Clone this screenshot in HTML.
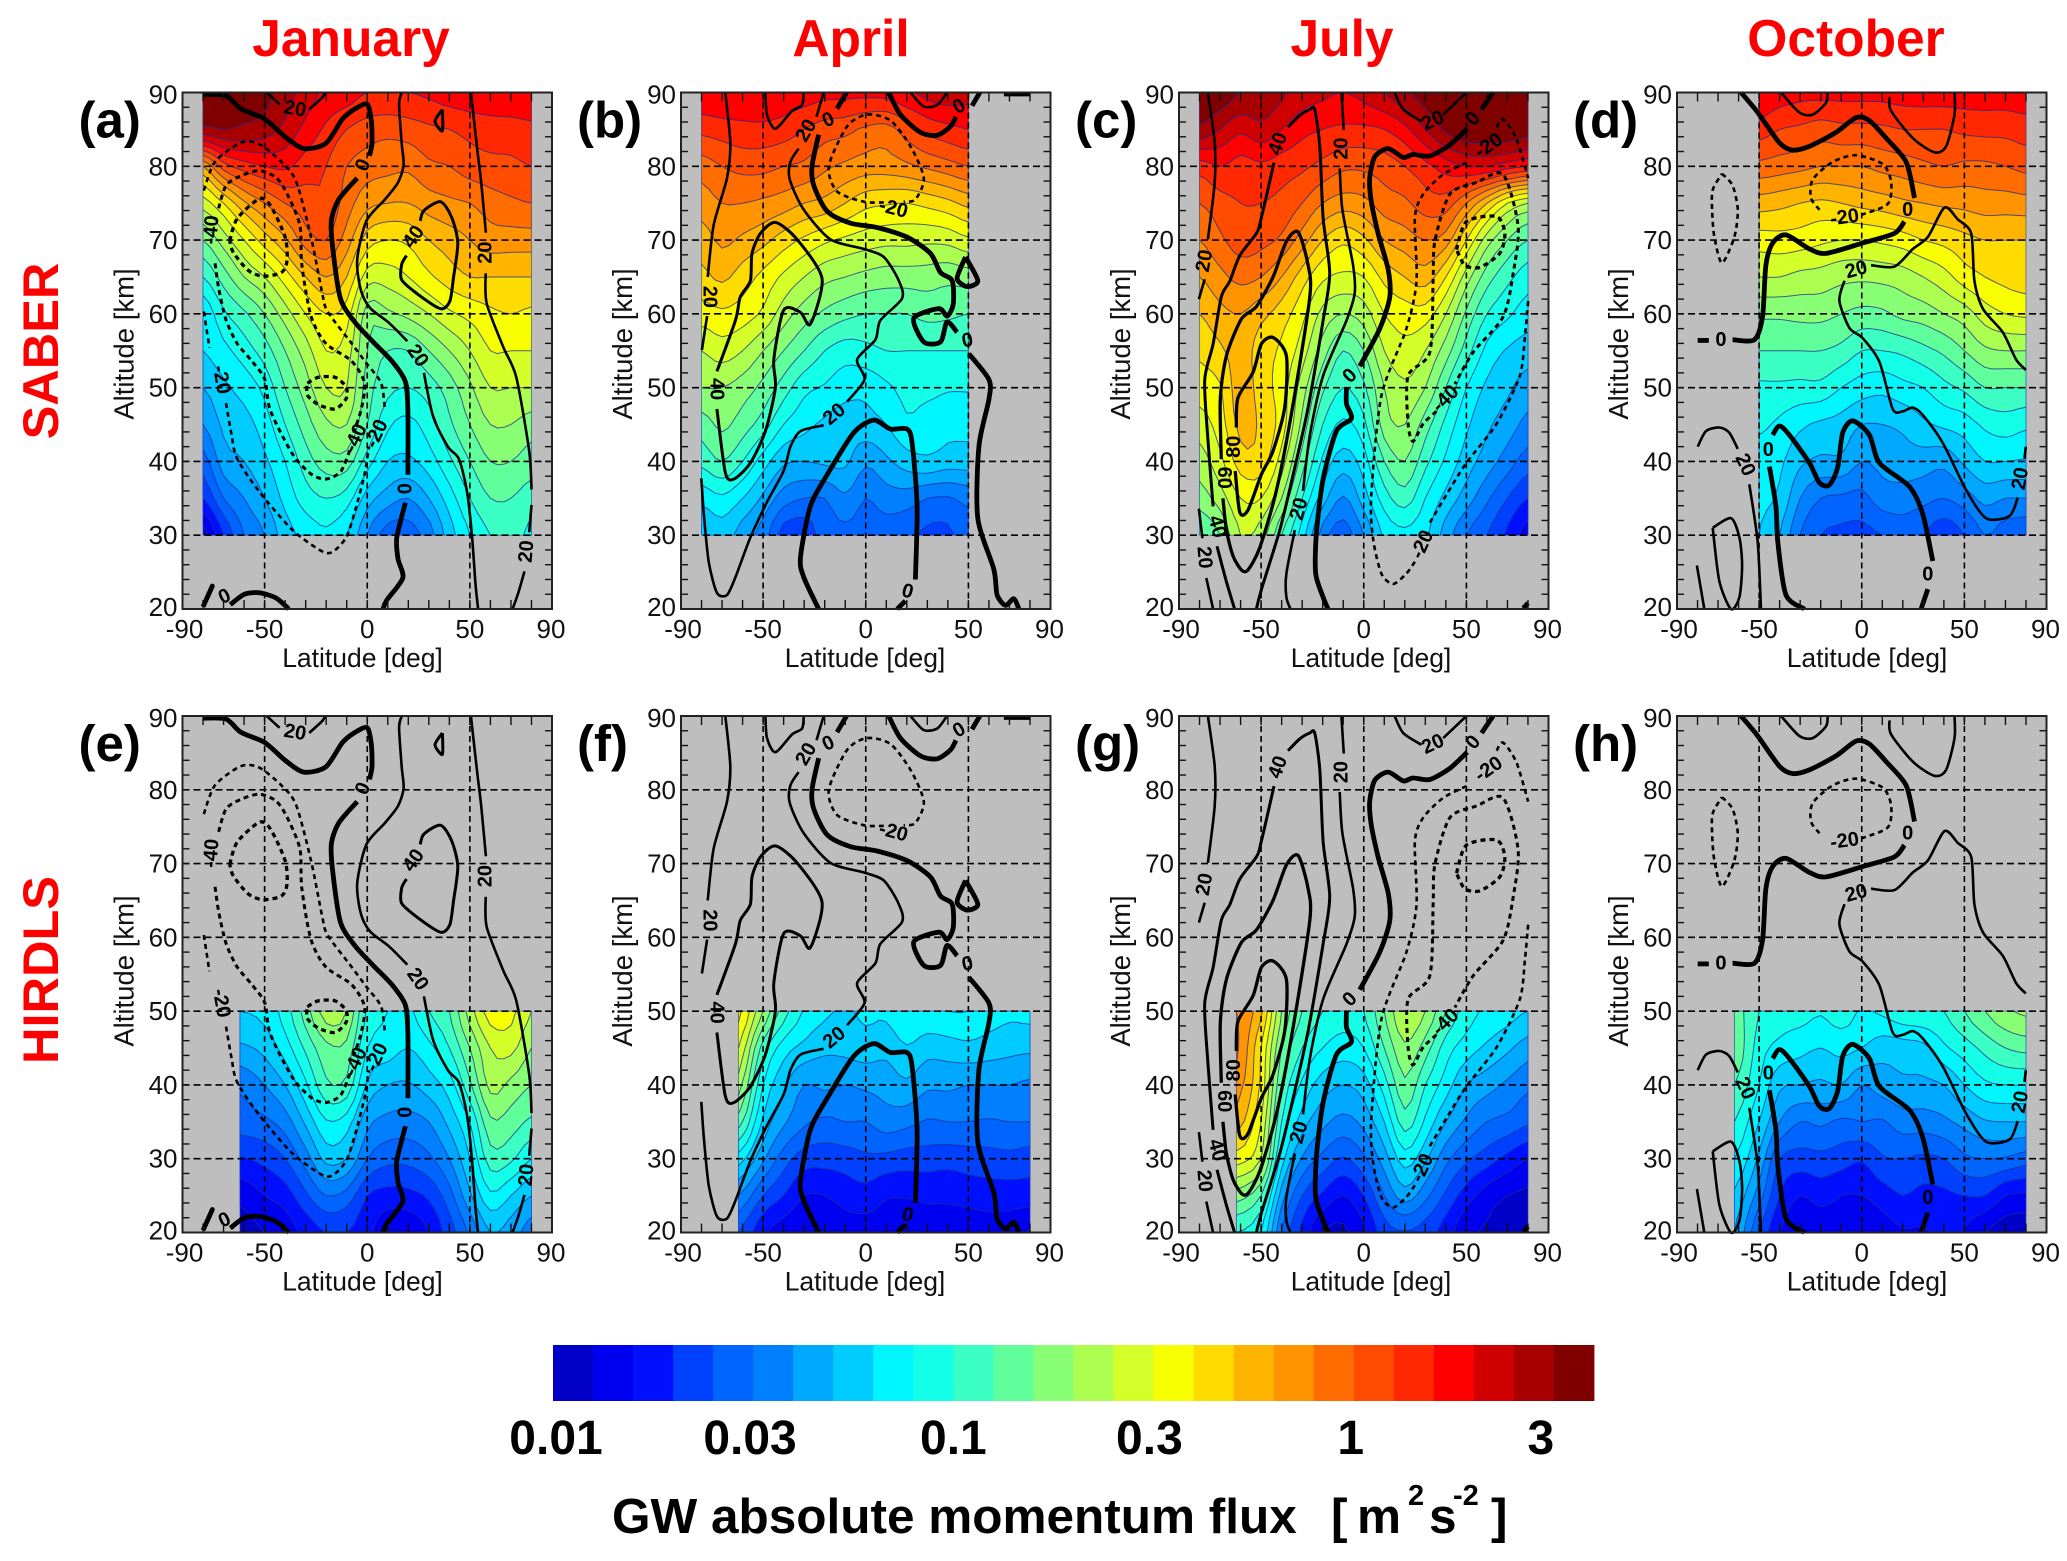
<!DOCTYPE html>
<html lang="en"><head><meta charset="utf-8"><title>GW absolute momentum flux</title>
<style>
html,body{margin:0;padding:0;background:#fff}
svg{display:block}
text{font-family:"Liberation Sans",sans-serif}
.month{font-size:51.5px;font-weight:700;fill:#f00;text-anchor:middle}
.row{font-size:50.5px;font-weight:700;fill:#f00;text-anchor:middle}
.cbt{font-size:49.5px;font-weight:700;fill:#000}
</style></head><body>
<svg id="fig" xmlns="http://www.w3.org/2000/svg" width="2067" height="1561" viewBox="0 0 2067 1561">
<rect width="2067" height="1561" fill="#fff"/>
<text class="month" x="351" y="56">January</text>
<text class="month" x="851" y="56">April</text>
<text class="month" x="1342" y="56">July</text>
<text class="month" x="1846" y="56">October</text>
<text class="row" transform="translate(58 351) rotate(-90)">SABER</text>
<text class="row" transform="translate(58 970) rotate(-90)">HIRDLS</text>
<g id="panels"></g>
<g id="colorbar"></g>
<g>
<text class="cbt" x="612" y="1533">GW absolute momentum flux</text>
<text class="cbt" x="1331" y="1533">[</text>
<text class="cbt" x="1357" y="1533">m</text>
<text class="cbt" x="1408" y="1505" style="font-size:29px">2</text>
<text class="cbt" x="1429" y="1533">s</text>
<text class="cbt" x="1453" y="1505" style="font-size:29px">-2</text>
<text class="cbt" x="1491" y="1533">]</text>
</g>
</svg>
<script>
// Flux values are read as colour-level units: level = 10*log10(flux / 0.01 m2 s-2).
const saberAlt=[30,35,40,45,50,55,60,65,70,75,80,85,90];
const hirdlsAlt=[20,25,30,35,40,45,50];
const latFull=[-80,-70,-60,-50,-40,-30,-20,-10,0,10,20,30,40,50,60,70,80];
const latApr=[-80,-70,-60,-50,-40,-30,-20,-10,0,10,20,30,40,50];
const latOct=[-50,-40,-30,-20,-10,0,10,20,30,40,50,60,70,80];
const latHirdls=[-62,-50,-40,-30,-20,-10,0,10,20,30,40,50,60,70,80];

const saberJan=[
[0.5,3,5,6,7.5,8.3,8.8,8,6,4.5,4.5,5.5,7.5,9,10,10.5,9.7],
[3,5,6,7,8.3,9.5,10,9.5,7.5,6.5,6,7,8.5,10,11,11,10.5],
[4.5,6.5,7,7.8,9,10.5,11.5,11.5,9.5,8,7.8,8.5,9.8,11,12,12,11.5],
[6,7.2,7.6,8.5,10,11.5,12.8,13,11,9.2,8.7,9.5,10.8,12,13,13,12.5],
[7,7.8,8.4,9.3,11,12.5,14,14,11.5,10.3,10,10.5,11.5,12.8,14,14,14],
[8,8.7,9.5,10.5,12,13.5,15,14.5,12,11,11,12,13,14,15,15,15],
[8.2,9.8,10.8,12,13.5,15,16,15.5,12.5,12.8,13.3,14,14.8,15.3,15.8,16,15.8],
[10,11.5,13,14,15.5,17,18,17,14.5,14.5,15,15.8,16.5,17,17,17,17],
[12,13.5,15,16.5,17.8,19.5,20,18.5,16.5,16,16.2,17,17.5,18,18.5,18.5,18.5],
[14.5,16,17.8,19,20,20.5,20.8,19.5,18.3,18,18,18.5,18.8,19,19.5,19.8,20],
[18,20.5,21.5,22,22.2,21.5,21,20,19.5,19.3,19.2,19.8,20,20.5,20.7,20.8,21],
[24.8,25,24.8,24.5,23.7,22.7,21.8,21,20.5,20.3,20.5,20.8,21,21.3,21.5,21.5,21.7],
[25.5,25.5,25.5,25.3,24.5,23.5,22.8,22.5,22,22,22,22.2,22.5,22.7,22.8,23,23]];
const saberApr=[
[7,7.5,6.5,5.5,3.5,3.3,4.5,4.7,4.5,4.5,4.2,3.8,3.8,4.5],
[8.3,8.8,8,6.8,5.5,5,5,5.8,5,5.5,5.5,5,4.9,5.3],
[10.3,11,10,8.5,7.2,7,7.2,7.2,6.2,6.8,7.5,7.8,7.5,7.5],
[11.5,12.2,11.5,10.5,9,8.3,7.8,7.5,7.6,8,8.8,8.5,8.3,8.3],
[13,13,12.5,11.7,10.5,9.3,8.9,8.4,8.3,8.8,9.3,9.3,9.1,9.1],
[14,14.5,14,13,12,11,10,9.5,9.7,10,10,10,10,10],
[15.5,15.8,15.5,14.8,13.5,12.5,11.8,11.3,11,11,11,11.3,11.2,11],
[16.7,17.2,16.5,15.7,14.8,14,13.3,13,12.7,12.5,12.5,12.5,12.3,12.5],
[17.5,18.2,17.8,17.3,16.5,15.8,15.2,14.8,14.5,14.3,14.3,14.2,14.3,14.8],
[18.5,19,19,18.8,18.5,18,17.7,17,16.3,16.1,16,16.3,16.7,17.3],
[19.5,20,20.3,20.3,20,19.8,19.2,18.8,18.5,18.5,18.8,19.2,19.6,20],
[21.3,21.5,21.7,21.7,21.5,21,20.5,20.3,19.8,19.6,20.5,21.3,21.7,22],
[22.8,23,22.8,23,22.7,22.5,22.3,22.3,22.3,22.4,22.8,23.3,23.5,23.3]];
const saberJul=[
[11,12,14,13.5,11,8.5,5.5,4.5,6,8.2,8.7,8.2,6.5,5,4,2.8,1.5],
[12.5,13.5,15,15,13,10,7.5,5.9,7.5,9.5,10.5,9,7.7,6.5,5.2,4,3],
[13.5,14.7,16.5,16.5,14.5,11.5,8.8,7.5,8.5,11,12,10.3,8.8,7.5,6.5,5.5,4.5],
[14.5,15.5,17.3,16.8,15.5,12.7,10,8.8,9.7,12.5,13,11.5,9.7,8.2,7.2,6.5,5.7],
[15.5,15.9,17.6,16.5,15.5,13.5,11.2,10,10.8,13,13.8,13,11,9,7.8,7.2,6.5],
[16.2,16.8,17.5,16.5,15.8,14.5,12.5,11,12,14,14.7,14,12.5,10.5,8.7,7.9,7.5],
[17,17.7,18,17.3,16.5,15.3,13.7,13,13.5,15,15.5,15.5,14,11.8,10,9.2,8.5],
[18,18.7,19.3,19,18,16.5,15.2,14.8,15,16.3,17,17.5,16,13.5,11.5,10.3,9.5],
[19,19.8,20.5,20.3,19.8,18.5,17,16.2,16.8,18,18.5,19,18.5,16,13.5,12,11],
[20,20.6,21,21,20.7,20,19,18.5,18.7,19.5,19.8,20.5,20.5,19,17,15,14],
[21.5,22,21.6,21.8,21.5,21.2,20.7,20.2,20.2,20.5,21,21.7,22.5,23,23,22.5,22],
[24.8,24,23.2,23.7,23,22.3,22,21.8,21.8,22,22.7,24,25.2,25.7,25.7,25.7,25.5],
[25.8,25.7,25,24.8,24.2,23.5,23.2,23,23.3,24,24.8,25.5,25.9,25.9,25.9,25.9,25.9]];
const saberOct=[
[8,7,5,4,3.8,3.7,4,4.5,4,3.3,4,5,4.5,4.2],
[8.2,7.8,6,5,4.8,4.7,5.5,5.5,5.3,5,5.5,6.3,6,6],
[8.5,8.2,7.2,6.8,6.8,6,6.3,6.6,6.5,6.3,7.2,8,8,7.9],
[9.2,8.8,8.2,7.8,7.6,7,7,7.2,7.8,8.2,8.5,9.2,9.5,9.2],
[9.8,9.8,9.7,9.7,9,8.5,8.3,8.7,9,9.7,10.2,11,11,11],
[11,11,11,11,10.7,10,10,10.2,10.7,11.2,12,12.8,13,13],
[12.2,12.2,12.3,12.3,12,11.7,11.8,12.3,12.5,13,13.5,14.5,15,15.2],
[14,14,13.7,13.6,13.3,13.2,13.3,13.5,14,14.6,15.5,16,16.3,16.5],
[15.5,15.6,15.5,15.2,15,15,15.2,15.5,16,16.3,16.7,17,17,17],
[17.5,17.3,17,16.8,17,17.3,17.5,17.8,18,18.2,18.3,18.5,18.5,18.6],
[19.7,19.5,19.3,19,19,19,19.3,19.5,19.8,20,19.8,19.8,20,20.3],
[21.5,21,20.8,20.5,20.7,20.7,20.8,21,21,21,21.2,21.3,21.3,21.5],
[23,22.5,22.3,22.3,22.3,22.3,22.3,22.4,22.5,22.5,22.5,22.5,22.5,22.6]];
const hirdlsJan=[
[0.5,1,1.4,2.3,3,3,2.3,1.2,1.2,2,3.5,5.2,7,6.5,5.5],
[1.3,2,2.5,3.8,5,4.6,3,2.6,2.7,3.2,4.6,6.8,8.8,8,7],
[2.9,3.3,4,5.5,7.3,7,5,4.3,4.3,4.8,6,8,10.5,10.2,9],
[4.5,4.8,5.5,7.2,8.9,8.5,6.3,5.7,5.6,6,7.3,9,11.8,11.5,10.8],
[5.2,6,7,8.8,10.8,10.7,7.8,7,6.9,7.5,8.5,10.8,13.3,12.7,12],
[6.8,7.3,8.5,10.2,11.7,11.7,9,8.5,8,8.7,10,12,14,14.3,13],
[8,8.3,9.5,11.5,13.5,13,9.8,9,8.8,10,11,13.5,15.5,15.3,14]];
const hirdlsApr=[
[4,2.2,1.5,1.2,1.2,1.5,1.5,1.5,1,1.5,1.5,1.3,1.5,1.4,0.9],
[6,4,3,2,2,2.4,2.6,2.1,2.1,2.2,2.2,2.4,2.5,2.5,2.5],
[8.5,6.2,4.5,3.5,3.4,3.5,3.8,3.7,3.5,3.5,3.4,3.5,3.6,3.7,3.5],
[11.5,7.8,6.2,5.2,4.8,5,5,5.5,5.3,4.9,5,5,4.9,5,5],
[13.5,9,7.2,6,6.2,6,6.2,6.4,6.8,6.2,6.2,6,6,6,5.8],
[15,10.5,8.5,7.7,7.2,7.3,7.5,7.3,7.9,7.4,7.5,7.7,7.5,7.3,7.2],
[16.3,13,10.5,8.9,8.2,7.9,8.2,8.2,9,8.8,9,9,8.5,8.2,8.3]];
const hirdlsJul=[
[10,9,5,2.7,1,0.8,1.8,3.5,3.9,3.5,2.5,1.2,0.9,0.6,0.5],
[12.5,11,6.5,4,2.8,2,3,5,6.5,5.3,3.8,2.5,1.5,1,0.8],
[15.5,14,8.5,5.9,4.7,3.9,4.8,6.5,8.5,7.2,5.3,4.2,3.5,2.7,2],
[17.5,15,10,7.5,6.3,5.7,6.3,8,10.5,8.8,7,5.8,5,4.7,4.2],
[18.5,15.8,11,8.8,7.5,7,7.5,9.5,11.8,10,8.5,7,6.4,5.8,5.2],
[19.2,16,12,10,9,8.5,9,11,12.8,11.5,9.5,8.5,7.8,7.2,6.5],
[19,17.2,13,11,10,9.5,10,12,14,13,11,9.5,8.8,8.4,8]];
const hirdlsOct=[
[7,4,2,1.2,1.2,1.6,1,1.5,1.9,1.9,2.2,1.9,1,0.5,0.4],
[7.8,5.5,3,2,2.4,2,2,2.5,3,2.7,2.8,3,3,2,1.8],
[9,6.8,4,3.6,3.7,3.5,3.1,3.9,4,3.8,4,4.8,5,4.9,4.5],
[10,8,6,5,5.2,4.8,5,4.9,5.5,5.5,5.8,6.3,6.9,7,7],
[11,9,7.2,7,6.8,7,6,6.5,6.8,6.8,7,8,8.8,9,9],
[11.8,9.5,8.7,8.3,8,8.3,8,7.4,7.5,7.7,8.8,9.5,10.3,11,11.3],
[11.5,10,9.5,9.4,9.1,9.5,8.9,9.2,9.7,9.9,10,11,12,12.8,13.2]];

// Wind contours: [wind value, lat, alt, lat, alt, ...]
const janContours=[
[0,-80,89.7,-68.8,89.6,-61.6,87.8,-49.9,86.4,-40,84,-31,82.4,-20.2,83.1,-12.1,86.4,-5.8,87.8,0,88.4,2,86.1,2.3,83.1,1.1,81.4],
[0,-4.9,78.4,-13.9,75.5,-17.5,72.6,-16.6,68.4,-13,62,-5.8,58.8,3.2,56.1,12.3,53.5,18.6,50.8,19.8,46.7,19.8,38.2],
[0,18.6,34.4,14.4,29.7,15,26.8,17.3,24.2,9.5,21.2,7.7,20],
[0,-80,20.3,-75.5,23.1,-78,21.5],
[0,-66.7,20.6,-59.8,22,-52.6,22.2,-44.5,21.5,-38.2,20],
[20,16.8,90,15.5,88.4,16.8,83.1,17.7,80.2,15,77.8,8.6,75.5,-0.4,72.6,-4.9,67.3,-3.1,63.2,1.4,60.8,10.5,58.8,19.5,56.3],
[20,27.6,52,32.1,46.1,39.3,42,44.7,40.3,48.6,35.9,51,30,52.8,23.2,54,20],
[20,50.5,90,53.7,82,55.5,77.8,57.8,71],
[20,57.7,65.5,58.2,61.4,66.3,55.5,72.6,51.4,78.9,41.4,80,36.2],
[20,80,34.1,78.9,30.4],
[20,76.6,25.1,73.5,22.1,70.8,20],
[20,-49,90,-42.7,88.4],
[20,-28.3,87.7,-22,89.3,-20.5,90],
[40,25.8,72.6,27.6,74,35.7,75.2,41.1,73.1,44.1,69.6,42,64.9,40.2,61.7,35.7,60.7,24.9,62.6,16.8,64.6,16.8,66.7,19.1,67.9],
[40,36.6,87.7,33,86.1,36.6,84.8,36.6,87.7],
[-20,-79.6,76.7,-74.2,80.6,-61.6,83.2,-52.6,83,-41.8,80.6,-34.6,77.9,-27.4,70.4,-22,62.9,-19.3,60.3,-7.6,56,-0.4,53.3,6.8,50.6,8.6,46.9],
[-20,-79.6,60.3,-76.9,55.4],
[-20,-68.8,47.9,-66.1,43.6,-63.4,40.4,-52.6,35.9,-36.4,30.7,-22,27.8,-16.6,27.8,-10.3,29.7,-5.8,33.4,-1.3,38.3,0.9,42],
[-40,-72.4,74.3,-68.8,77.4,-61.6,78.7,-52.6,79.4,-44.5,78.5,-39.1,76.3,-32.8,72,-31.9,66.7,-27.4,59.7,-20.2,56,-7.6,53.6,-1.3,50.6,-3.1,46.9,-6.7,43.9],
[-40,-8.5,41.5,-13,38.6,-20.2,37.6,-27.4,38.3,-36.4,41,-47.2,46.9,-49.9,51.1,-56.2,53.6,-63.4,56,-68.8,59.2,-72.4,63.5,-74.2,67],
[-60,-67,69.9,-63.4,72.9,-52.6,75.6,-47.2,74.7,-40,70.4,-39.1,67.2,-41.8,65.6,-50.8,65.1,-58,65.9,-65.2,68.3,-67,69.9],
[-60,-29.2,50.6,-23.8,51.4,-15.7,51.4,-10.3,50.1,-10.3,48.5,-15.7,47.1,-23.8,47.7,-29.2,49,-29.2,50.6]];
const aprContours=[
[0,11.2,90,16.9,87,26.6,84.6,34.8,84.2,41.3,85.4,43.9,86.7],
[0,51.8,88.2,55.6,90],
[0,-9.4,90,-14,87.8],
[0,-22.9,84.3,-26.2,80,-25.3,77.4,-18.8,73.9,-7.5,72.3,5.5,71.7,20.1,70.4,31.5,68.2,36.4,65.6,42.1,64.5,42.6,61.3,39.6,59.7,35.6,60.7,23.4,59.4,28.3,56.2,36.4,56.2,39.6,58.9,44.5,57.5],
[0,48.6,67.7,44.5,64.8,49.4,63.7,54.6,64.5,48.6,67.7],
[0,50.2,54.6,60,51.1,60,48.4,55.1,42,54.6,32.3,62.4,25.4,64,21.9,68.1,20.5,72.1,21.4,74.6,20],
[0,-22.9,20,-30.2,24.3,-31.8,27,-27,33.9,-18.8,38.2,-5.8,43.9,3.9,45.6,12,44.4,20.1,44.4,22.6,42.5,25,33.9,24.2,24],
[0,15.3,20,19.3,21.1],
[0,67.3,89.8,80.3,89.8],
[20,-68.4,90,-66,83.2,-67.6,78.4,-74.1,72,-77,65],
[20,-77.3,59.7,-79.8,55.1],
[20,-48.9,90,-48.1,87,-44,85.1,-35.9,87.5,-31,88.3,-30.2,90],
[20,-20.5,90,-24,86.7],
[20,-32.7,82.4,-36.7,80.6,-37,78.2,-30.2,74.1,-17.2,70.1,-1,68.8,8.8,67.7,16.1,64.5,17.7,62.1,7.1,59.1,4.7,56.5,-4.2,53.8,-0.6,51.1,-9.1,48.1],
[20,-20.5,44.9,-31.8,44.1,-36.7,42,-40,38.7,-48.1,34.5,-56.2,29.7,-63.5,24.3,-67.6,21.9,-72.5,22.2,-76.5,26.4,-78.9,32.9,-80.1,37.7],
[20,21.8,90,28.2,88.1,34.8,88.3,39.6,90],
[40,-72.5,52.2,-63.5,59.1,-61.1,62.3,-56.2,64.5,-55.4,68.2,-51.3,70.9,-44,72.4,-33.5,70.1,-21.3,64.8,-27,58.6,-31.8,60.2,-40,60.5,-44.8,53.8,-44,50,-48.9,44.1,-56.2,39.8,-64.3,37.6,-68.4,38.5,-72.5,47.1],
[-20,8.8,75.1,-1,75.2,-14,76.6,-18,80,-9.1,85.4,0.6,87,12,86.2,21.8,82.7,28.3,78.4,24.2,75.5,18.5,75.2]];
const julContours=[
[0,63,90,57.4,87.7],
[0,50.4,85.1,41.9,82.9,32.2,81.4,24,81.6,19.2,81.2,11.9,82.4,5.4,81.3,2.9,78.4,3.7,75.2,7,70.9,11.9,66,12.7,62.3,7.8,58,-1.9,52.9],
[0,-8.4,50,-8.4,47.8,-6,45.8,-13.3,44.1,-19.8,37.6,-23.1,30.1,-23.4,24.8,-19.8,21.6,-17.4,20],
[0,77.7,20.1,80,20.8],
[20,-75.9,90,-72.6,83.2,-72.6,77.8,-75.9,70.1],
[20,-77.5,64.7,-80.3,62],
[20,-10.9,90,-9.7,84.9],
[20,-11.7,79.7,-10.4,74.1,-5.2,66.6,-4.4,62.8,-8.4,59.1,-19.8,51.6,-26.3,43.5,-29.6,36],
[20,-33.6,30.7,-37.7,24.8,-37.7,21.6,-35.7,20],
[20,15.1,90,19.2,87.7,28.1,86.1],
[20,38.7,87,50,90],
[20,-80.3,33.6,-78.6,29.6],
[20,-76.7,24.2,-73.4,20],
[40,-36.9,85.3,-31.2,86.9,-26.3,87.7,-23.9,87.7,-21.4,82.7,-19.8,73,-16.6,65.5,-19.8,59.1,-27.1,47.3,-34.4,38.2,-40.9,30.7,-49.9,22.6,-52.3,20],
[40,-43.7,80.5,-49.9,73,-52.3,70.9,-60.4,67.9,-65.3,64.4,-69.4,62.3,-73.4,55.9,-77.5,51,-75.9,43,-73.4,33.9],
[40,-71.5,28.5,-66.9,23.7,-62.9,20],
[60,-69.4,40.3,-69.9,48.4,-66.9,54.3,-59.6,59.3,-52.3,61,-44.2,65,-37.7,69.8,-32,71.1,-27.1,66.6,-26.3,62.3,-34.4,47.8,-42.6,36,-50.7,28.3,-56.4,25.3,-59.6,25.3,-63.7,27.2,-66.9,30.7,-68.6,35],
[80,-62.1,44.6,-61.3,48.6,-53.9,52.1,-49.9,55.9,-44.2,56.8,-37.7,54.3,-38.5,47.3,-44.2,41.4,-49.9,38.2,-56.4,33.4,-60.4,33.1,-62.6,38.7],
[-20,32.2,31.7,40.3,35.5,50,39.8,64.7,45.1,76,51.6,78.5,56.9,80.1,61.8],
[-20,24.9,26.4,20.8,24.8,14.3,23.4,8.6,24.8,4.5,29.6,3.7,35.5,8.6,48.9,20.8,58,25.7,64.4,24.9,73,28.9,76.2,38.7,78.9,50,80.5],
[-20,64.7,85.3,67.9,86.4,74.4,83.7,80.1,78.4],
[-40,35.4,46.8,28.9,45.1,24,42.7,21.6,45.1,21.6,51.6,32.2,54.8,33.8,64.4,34.6,69.8,41.9,76.2,54.9,77.8,67.9,78.9,75.2,71.9,72.8,65.5,67.9,59.6,53.3,54.8,44.4,50.5],
[-60,45.2,68.7,50,72.5,64.7,73.2,68.7,70.9,66.3,68.2,56.5,66.3,49.2,66.6,45.2,68.7]];
const octContours=[
[0,-58.8,90,-50.7,87.3,-40.1,83.2,-33.6,82.2,-25.5,82.7,-12.5,84.6,-2.8,86.6,3.7,86.2,11.9,83.8,21.6,80.6,25.7,75.7],
[0,20.8,72.5,15.9,70.9,0.5,69.6,-17.4,68.2,-25.5,68.8,-36.9,70.7,-43.4,69.6,-46.7,66.6,-48.3,59.7,-52.3,56.5,-62.9,56.5],
[0,-74.5,56.4,-79.9,56.4],
[0,-43.4,43.6,-40.1,44.8,-35.3,43.6,-25.5,39.8,-20.6,37.1,-15.8,36.8,-11.7,39.2,-9.3,43.9,-4.4,45.5,3.7,43.6,8.6,39.8,23.2,36.6,29.7,32.9,34.6,26.5],
[0,32.2,22.7,28.9,20],
[0,-45,39.3,-41.8,33.9,-40.9,29.1,-36.9,21.9,-27.9,20],
[20,13.5,89.4,14.3,87.5,24.9,83.8,35.4,81.9,41.1,82.7,45.2,87,45.2,90],
[20,-39.3,90,-30.4,87.3,-23.9,87,-17.4,88.6,-16.6,90],
[20,4.5,66.6,15.9,66.4,24.9,68.8,32.2,70.4,40.3,74.4,46.8,72.8,53.3,70.9,54.9,64.5,59,60.7,68.7,57.5,75.2,53.8,79.9,52.4],
[20,-8.4,64.5,-10.9,61.8,-6,58.1,0.5,56.7,8.6,53.5,15.1,47.1,20,46.8,24.9,47.3,29.7,46.3,39.5,42.5,50.9,36.1,60.6,32.3,72,32.6,76,35.1],
[20,79.3,40.4,79.9,42],
[20,-79.9,42,-75.9,44.1,-69.4,44.6,-64.5,43.9,-60.4,41.7],
[20,-54.8,36.9,-50.7,29.1,-49.1,20],
[20,-72.6,31,-63.7,32.3,-59.6,29.7,-58.3,25.9,-59.6,21.6,-63.7,20,-69.4,23.8,-72.6,31],
[20,-80.3,25.9,-76.7,20],
[-20,-0.3,73.4,12.7,74.9,14.3,77.9,10.2,80.3,-2.8,81.5,-14.1,80.6,-23.9,78.2,-24.7,75.7,-20.6,74.1],
[-20,-68.1,79,-62.9,77.4,-60.4,74.1,-62.1,70.4,-68.1,66.9,-71.8,70.4,-72.9,74.1,-72.6,76.8,-68.1,79]];

// Contour labels: [text, lat, alt, rotation degrees]
const janLabels=[["20",-35.1,87.9,10],["0",-2.5,80.2,-65],["40",22.2,70.5,-55],["20",57,68.3,-90],["20",24.9,54.4,55],["0",18.2,36.3,-90],["20",77.1,27.8,-85],["0",-69.7,21.8,-25],["-40",-76.4,71.4,-85],["-20",-70.6,51.1,80],["-40",-6.1,43.2,-65],["-20",4.1,43.8,-65]];
const aprLabels=[["0",-18.4,86.4,-25],["20",-29.4,84.9,-60],["-20",13.6,74.4,15],["0",45.3,88.2,-30],["20",-75.7,62.3,90],["40",-72.1,49.8,90],["0",49.4,56.5,-10],["20",-15.6,46.5,-40],["0",20.5,22.5,15]];
const julLabels=[["20",-78,67.2,-80],["40",-42.2,83.1,-70],["20",-11.4,82.4,-90],["20",33.5,86.3,-25],["0",53,86.5,-50],["-20",60.6,82.9,-35],["-40",39.5,48.6,-45],["0",-7.1,51.7,-45],["80",-63.7,42,-90],["60",-67.7,37.8,90],["40",-71,31.2,75],["20",-77.2,27,85],["20",-32,33.6,-75],["-20",28.1,28.8,-65]];
const octLabels=[["0",22.4,74.2,0],["-20",-8.4,73.2,-8],["20",-2.8,66.1,-15],["0",-68.6,56.6,0],["20",-56.4,39.6,65],["0",-45.5,41.7,0],["20",76.8,37.7,-80],["0",32.2,24.8,0]];

const latTicks=[-90,-50,0,50,90];
const altTicks=[20,30,40,50,60,70,80,90];
const barTickValues=[0.01,0.03,0.1,0.3,1,3];
const barTickText=["0.01","0.03","0.1","0.3","1","3"];
const levelsPerDecade=10;
const barLevelCount=26;
const palette=["#0000c8","#0000f0","#0010ff","#0040ff","#0064ff","#0080ff","#00a8ff","#00ccff","#00f6ff","#14ffe8","#3cffc4","#60ff9c","#88ff74","#acff50","#d4ff28","#f8ff00","#ffdc00","#ffb400","#ff9400","#ff6c00","#ff4c00","#ff2800","#ff0000","#d00000","#a80000","#800000"];

const panelDefs=[
{id:"a",col:0,row:0,lat:latFull,alt:saberAlt,z:saberJan,lines:janContours,labels:janLabels},
{id:"b",col:1,row:0,lat:latApr,alt:saberAlt,z:saberApr,lines:aprContours,labels:aprLabels},
{id:"c",col:2,row:0,lat:latFull,alt:saberAlt,z:saberJul,lines:julContours,labels:julLabels},
{id:"d",col:3,row:0,lat:latOct,alt:saberAlt,z:saberOct,lines:octContours,labels:octLabels},
{id:"e",col:0,row:1,lat:latHirdls,alt:hirdlsAlt,z:hirdlsJan,lines:janContours,labels:janLabels},
{id:"f",col:1,row:1,lat:latHirdls,alt:hirdlsAlt,z:hirdlsApr,lines:aprContours,labels:aprLabels},
{id:"g",col:2,row:1,lat:latHirdls,alt:hirdlsAlt,z:hirdlsJul,lines:julContours,labels:julLabels},
{id:"h",col:3,row:1,lat:latHirdls,alt:hirdlsAlt,z:hirdlsOct,lines:octContours,labels:octLabels}];

const NS="http://www.w3.org/2000/svg";
const colLeft=[182.5,681,1179,1677], rowTop=[92.5,716], W=369.5, H=516.5;
const xTitleShift=[180,184,192,190], yTitleShift=[251.5,255];
function mk(tag,parent,attrs,txt){
  const e=document.createElementNS(NS,tag);
  for(const k in attrs) e.setAttribute(k,attrs[k]);
  if(txt!==undefined) e.textContent=txt;
  parent.appendChild(e);
  return e;
}
function smooth(p){
  let d="M"+p[0][0].toFixed(1)+" "+p[0][1].toFixed(1);
  for(let i=0;i<p.length-1;i++){
    const a=p[Math.max(i-1,0)],b=p[i],c=p[i+1],e=p[Math.min(i+2,p.length-1)];
    const k=1/6*0.8;
    d+="C"+(b[0]+(c[0]-a[0])*k).toFixed(1)+" "+(b[1]+(c[1]-a[1])*k).toFixed(1)+" "+(c[0]-(e[0]-b[0])*k).toFixed(1)+" "+(c[1]-(e[1]-b[1])*k).toFixed(1)+" "+c[0].toFixed(1)+" "+c[1].toFixed(1);
  }
  return d;
}
function cr(a,b,c,d,t){
  return 0.5*(2*b+(c-a)*t+(2*a-5*b+4*c-d)*t*t+(3*b-a-3*c+d)*t*t*t);
}
function upAxis(v,n){
  const out=[];
  for(let i=0;i<v.length-1;i++){
    for(let k=0;k<n;k++) out.push(v[i]+(v[i+1]-v[i])*k/n);
  }
  out.push(v[v.length-1]);
  return out;
}
function upLine(v,n){
  const out=[];
  for(let i=0;i<v.length-1;i++){
    const a=v[Math.max(i-1,0)],b=v[i],c=v[i+1],d=v[Math.min(i+2,v.length-1)];
    for(let k=0;k<n;k++) out.push(cr(a,b,c,d,k/n));
  }
  out.push(v[v.length-1]);
  return out;
}
function refine(P,n){
  const rows=P.z.map(r=>upLine(r,n));
  const cols=rows[0].map((_,c)=>upLine(rows.map(r=>r[c]),n));
  const z=cols[0].map((_,r)=>cols.map(col=>col[r]));
  return {lat:upAxis(P.lat,n),alt:upAxis(P.alt,n),z:z};
}
function bandPaths(P,x,y){
  const fills=[],lines=[];
  for(let L=0;L<barLevelCount;L++){fills.push("");lines.push("");}
  for(let L=1;L<barLevelCount;L++){
    for(let r=0;r<P.alt.length-1;r++){
      for(let c=0;c<P.lat.length-1;c++){
        const q=[[c,r],[c+1,r],[c+1,r+1],[c,r+1]];
        const poly=[],cross=[];
        for(let n=0;n<4;n++){
          const A=q[n],B=q[(n+1)%4];
          const va=P.z[A[1]][A[0]],vb=P.z[B[1]][B[0]];
          const xa=x(P.lat[A[0]]),ya=y(P.alt[A[1]]),xb=x(P.lat[B[0]]),yb=y(P.alt[B[1]]);
          if(va>=L) poly.push([xa,ya]);
          if((va>=L)!==(vb>=L)){
            const t=(L-va)/(vb-va);
            const pt=[xa+(xb-xa)*t,ya+(yb-ya)*t];
            poly.push(pt);cross.push(pt);
          }
        }
        if(poly.length>2) fills[L]+="M"+poly.map(p=>p[0].toFixed(1)+" "+p[1].toFixed(1)).join("L")+"Z";
        for(let n=0;n+1<cross.length;n+=2){
          lines[L]+="M"+cross[n][0].toFixed(1)+" "+cross[n][1].toFixed(1)+"L"+cross[n+1][0].toFixed(1)+" "+cross[n+1][1].toFixed(1);
        }
      }
    }
  }
  return {fills,lines};
}
const panelsRoot=document.getElementById("panels");
for(const P of panelDefs){
  const left=colLeft[P.col],top=rowTop[P.row];
  const x=v=>left+(v+90)/180*W;
  const y=v=>top+(90-v)/70*H;
  const g=mk("g",panelsRoot,{});
  
  
  const bg=mk("rect",g,{x:left,y:top,width:W,height:H,fill:"#bebebe"});
  
  
  const x0=x(P.lat[0]),x1=x(P.lat[P.lat.length-1]),y0=y(P.alt[P.alt.length-1]),y1=y(P.alt[0]);
  const base=mk("rect",g,{x:x0,y:y0,width:x1-x0,height:y1-y0,fill:palette[0]});
  
  
  const bp=bandPaths(refine(P,3),x,y);
  for(let L=1;L<barLevelCount;L++){
    if(!bp.fills[L]) continue;
    const f=mk("path",g,{d:bp.fills[L],fill:palette[L],stroke:palette[L],"stroke-width":"0.3"});
    
    
  }
  for(let L=1;L<barLevelCount;L++){
    if(!bp.lines[L]) continue;
    const l=mk("path",g,{d:bp.lines[L],fill:"none",stroke:"#1c2c90","stroke-width":"1","stroke-opacity":"0.75"});
    
    
  }
  const edge=mk("rect",g,{x:x0,y:y0,width:x1-x0,height:y1-y0,fill:"none",stroke:"#2838a0","stroke-width":"1","stroke-opacity":"0.6"});
  
  
  for(const a of altTicks.slice(1,-1)){
    const gl=mk("line",g,{x1:left,x2:left+W,y1:y(a),y2:y(a),stroke:"#000","stroke-width":"1.6","stroke-dasharray":"7 4"});
    
    
  }
  for(const a of latTicks.slice(1,-1)){
    const gl=mk("line",g,{x1:x(a),x2:x(a),y1:top,y2:top+H,stroke:"#000","stroke-width":"1.6","stroke-dasharray":"6 4"});
    
    
  }
  for(const c of P.lines){
    const val=c[0],pts=[];
    for(let i=1;i<c.length;i+=2) pts.push([x(c[i]),y(c[i+1])]);
    const m=Math.abs(val);
    const w=val===0?4.8:(m>=60?3.3:(m>=40?3:2.6));
    const a={d:smooth(pts),fill:"none",stroke:"#000","stroke-width":w,"stroke-linejoin":"round"};
    if(val<0) a["stroke-dasharray"]="5 4";
    const ln=mk("path",g,a);
    
    
  }
  for(const t of P.labels){
    const lb=mk("text",g,{transform:"translate("+x(t[1]).toFixed(1)+" "+y(t[2]).toFixed(1)+") rotate("+t[3]+")","font-size":"20","font-weight":"700","text-anchor":"middle",y:"7"},t[0]);
    
    
  }
  for(let a=-80;a<=80;a+=10){
    const t1=mk("line",g,{x1:x(a),x2:x(a),y1:top,y2:top+9,stroke:"#111","stroke-width":"1.4"});
    
    
    const t2=mk("line",g,{x1:x(a),x2:x(a),y1:top+H,y2:top+H-9,stroke:"#111","stroke-width":"1.4"});
    
    
  }
  for(let a=22;a<=88;a+=2){
    const t1=mk("line",g,{x1:left,x2:left+7,y1:y(a),y2:y(a),stroke:"#111","stroke-width":"1.4"});
    
    
    const t2=mk("line",g,{x1:left+W,x2:left+W-7,y1:y(a),y2:y(a),stroke:"#111","stroke-width":"1.4"});
    
    
  }
  const fr=mk("rect",g,{x:left,y:top,width:W,height:H,fill:"none",stroke:"#222","stroke-width":"2"});
  
  
  for(const a of latTicks){
    const tl=mk("text",g,{x:x(a)+(a===-90?2:a===90?-1:0),y:top+H+29,"font-size":"26","text-anchor":"middle",fill:"#111"},String(a));
    
    
  }
  for(const a of altTicks){
    const tl=mk("text",g,{x:left-5,y:y(a)+(a===90?11:a===20?7:9),"font-size":"26","text-anchor":"end",fill:"#111"},String(a));
    
    
  }
  const xt=mk("text",g,{x:left+xTitleShift[P.col],y:top+H+58,"font-size":"26.5","text-anchor":"middle",fill:"#111"},"Latitude [deg]");
  
  
  const yt=mk("text",g,{transform:"translate("+(left-49)+" "+(top+yTitleShift[P.row])+") rotate(-90)","font-size":"27.5","text-anchor":"middle",fill:"#111"},"Altitude [km]");
  
  
  const pl=mk("text",g,{x:left-104,y:top+45,"font-size":"51","font-weight":"700",fill:"#000"},"("+P.id+")");
  
  
}
const barRoot=document.getElementById("colorbar");
const barLeft=553,barRight=1594,barTop=1345,barH=56;
const barX=v=>barLeft+(levelsPerDecade*Math.log10(v/0.01))/barLevelCount*(barRight-barLeft);
const barLabelShift=[3,6,0,5,-3,-4];
for(let i=0;i<barLevelCount;i++){
  const v0=0.01*Math.pow(10,i/levelsPerDecade),v1=0.01*Math.pow(10,(i+1)/levelsPerDecade);
  const s=mk("rect",barRoot,{x:barX(v0),y:barTop,width:barX(v1)-barX(v0)+0.4,height:barH,fill:palette[i]});
  
  
}
barTickValues.forEach((v,i)=>{
  const t=mk("text",barRoot,{x:barX(v)+barLabelShift[i],y:1454,"font-size":"48","font-weight":"700","text-anchor":"middle",fill:"#000"},barTickText[i]);
  
  
});
</script>
</body></html>
